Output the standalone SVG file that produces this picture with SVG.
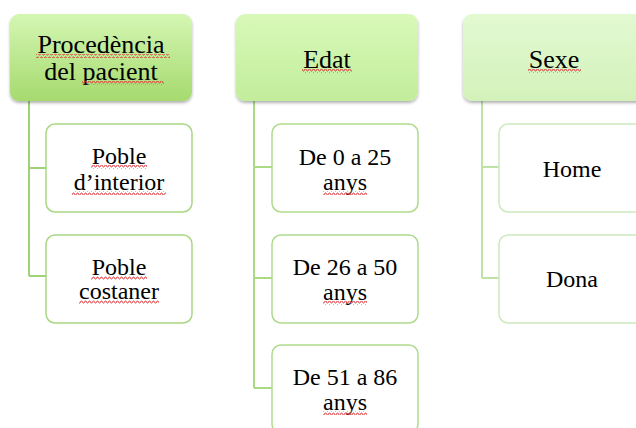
<svg xmlns="http://www.w3.org/2000/svg" width="636" height="428" viewBox="0 0 636 428">
<style>
.t{font-family:"Liberation Serif","Times New Roman",serif;fill:#000;text-anchor:middle}
.h{font-size:26px}
.c{font-size:24px}
.w{fill:url(#wave)}
</style>
<defs>
<linearGradient id="g1" x1="0" y1="0" x2="0" y2="1"><stop offset="0" stop-color="#d4f6b3"/><stop offset="1" stop-color="#a6da6e"/></linearGradient>
<linearGradient id="g2" x1="0" y1="0" x2="0" y2="1"><stop offset="0" stop-color="#d8f9b9"/><stop offset="1" stop-color="#c2ed9b"/></linearGradient>
<linearGradient id="g3" x1="0" y1="0" x2="0" y2="1"><stop offset="0" stop-color="#e3f9d2"/><stop offset="1" stop-color="#d3f2ba"/></linearGradient>
<filter id="sh" x="-10%" y="-10%" width="120%" height="130%"><feDropShadow dx="0" dy="2" stdDeviation="1.5" flood-color="#000" flood-opacity="0.3"/></filter>
<pattern id="wave" width="4" height="4" patternUnits="userSpaceOnUse"><path d="M0 3 L1 1 L2 1 L3 3 L4 3" fill="none" stroke="#e0393e" stroke-width="0.9"/></pattern>
</defs>
<g id="connectors" fill="none" stroke-width="2">
<path d="M29 101 V276 M29 168 H46 M29 276 H46" stroke="#9fd274"/>
<path d="M254 101 V388 M254 167 H272 M254 278 H272 M254 388 H272" stroke="#abda84"/>
<path d="M482 101 V278 M482 167 H499 M482 278 H499" stroke="#bfe3a6"/>
</g>
<g id="n1">
<rect x="10" y="14" width="182" height="87" rx="9" fill="url(#g1)" filter="url(#sh)"/>
<text class="t h" x="101" y="53">Procedència</text>
<text class="t h" x="101" y="80">del pacient</text>
<rect class="w" x="36" y="54" width="134" height="4"/>
<rect class="w" x="82" y="81" width="82" height="4"/>
</g>
<g id="n2">
<rect x="236" y="14" width="182" height="87" rx="9" fill="url(#g2)" filter="url(#sh)"/>
<text class="t h" x="327" y="68">Edat</text>
<rect class="w" x="302" y="69" width="50" height="4"/>
</g>
<g id="n3">
<rect x="463" y="14" width="182" height="87" rx="9" fill="url(#g3)" filter="url(#sh)"/>
<text class="t h" x="554" y="68">Sexe</text>
<rect class="w" x="528" y="69" width="53" height="4"/>
</g>
<g id="n1a">
<rect x="46" y="124" width="146" height="88" rx="9" fill="#fff" stroke="#a9d884" stroke-width="1.5"/>
<text class="t c" x="119" y="164">Poble</text>
<text class="t c" x="119" y="190">d’interior</text>
<rect class="w" x="91" y="165" width="56" height="4"/>
<rect class="w" x="72" y="191" width="94" height="4"/>
</g>
<g id="n1b">
<rect x="46" y="235" width="146" height="88" rx="9" fill="#fff" stroke="#a9d884" stroke-width="1.5"/>
<text class="t c" x="119" y="275">Poble</text>
<text class="t c" x="119" y="299">costaner</text>
<rect class="w" x="91" y="276" width="56" height="4"/>
<rect class="w" x="79" y="300" width="80" height="4"/>
</g>
<g id="n2a">
<rect x="272" y="124" width="146" height="88" rx="9" fill="#fff" stroke="#afdb8c" stroke-width="1.5"/>
<text class="t c" x="345" y="165">De 0 a 25</text>
<text class="t c" x="345" y="190">anys</text>
<rect class="w" x="323" y="191" width="44" height="4"/>
</g>
<g id="n2b">
<rect x="272" y="235" width="146" height="88" rx="9" fill="#fff" stroke="#afdb8c" stroke-width="1.5"/>
<text class="t c" x="345" y="275">De 26 a 50</text>
<text class="t c" x="345" y="300">anys</text>
<rect class="w" x="323" y="301" width="44" height="4"/>
</g>
<g id="n2c">
<rect x="272" y="345" width="146" height="88" rx="9" fill="#fff" stroke="#afdb8c" stroke-width="1.5"/>
<text class="t c" x="345" y="385">De 51 a 86</text>
<text class="t c" x="345" y="410">anys</text>
<rect class="w" x="323" y="411" width="44" height="4"/>
</g>
<g id="n3a">
<rect x="499" y="124" width="146" height="88" rx="9" fill="#fff" stroke="#cde9bd" stroke-width="1.5"/>
<text class="t c" x="572" y="177">Home</text>
</g>
<g id="n3b">
<rect x="499" y="235" width="146" height="88" rx="9" fill="#fff" stroke="#cde9bd" stroke-width="1.5"/>
<text class="t c" x="572" y="287">Dona</text>
</g>
</svg>
